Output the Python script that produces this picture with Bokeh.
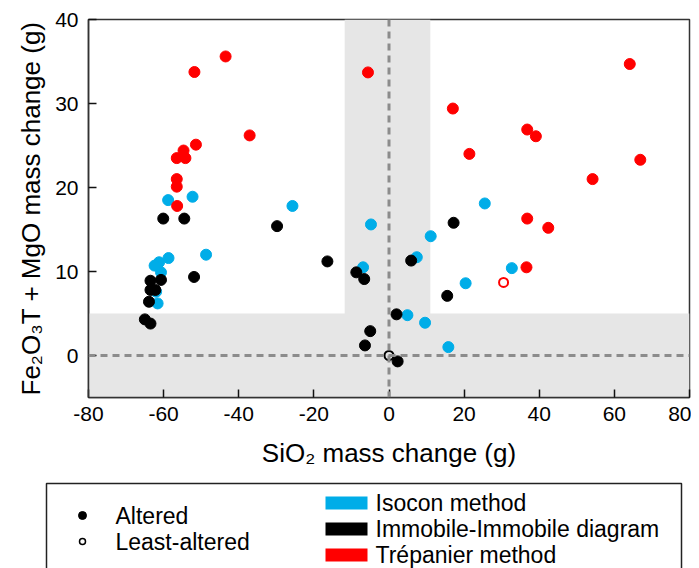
from bokeh.plotting import figure
from bokeh.models import Range1d, FixedTicker, Span
from bokeh.core.properties import value
from bokeh.embed import file_html
from bokeh.resources import INLINE

# ---------------- data ----------------
isocon_x = [-58.8, -52.3, -48.7, -58.7, -61.2, -62.4, -60.7, -61.6, -62.0,
            -25.7, -4.8, -6.9, 25.5, 11.1, 7.4, 32.7, 20.4, 4.9, 9.6, 15.8]
isocon_y = [18.5, 18.9, 12.0, 11.6, 11.1, 10.7, 9.9, 6.2, 7.6,
            17.8, 15.6, 10.5, 18.1, 14.2, 11.7, 10.4, 8.6, 4.8, 3.9, 1.0]

trep_x = [-43.5, -51.8, -37.1, -51.4, -54.7, -56.5, -54.2, -56.5, -56.5, -56.4,
          -5.6, 17.0, 21.4, 64.1, 36.8, 39.1, 66.9, 54.2, 36.8, 42.4, 36.6]
trep_y = [35.6, 33.75, 26.2, 25.1, 24.4, 23.5, 23.5, 21.0, 20.1, 17.8,
          33.7, 29.4, 24.0, 34.7, 26.9, 26.1, 23.3, 21.0, 16.3, 15.2, 10.5]
trep_least_x = [30.5]
trep_least_y = [8.7]

immo_x = [-60.1, -54.5, -51.9, -60.7, -63.5, -63.5, -62.2, -63.9, -65.0, -63.5,
          -29.8, -16.4, -8.7, -6.6, -5.0, -6.4, 17.2, 5.9, 15.5, 2.0, 2.3]
immo_y = [16.3, 16.3, 9.35, 9.0, 8.9, 7.8, 7.8, 6.4, 4.3, 3.8,
          15.4, 11.2, 9.9, 9.1, 2.9, 1.2, 15.8, 11.3, 7.1, 4.9, -0.7]
least_x = [0.0]
least_y = [0.0]

band_left = [-11.8, -80]
band_right = [11.0, 80]
band_bottom = [-5, -5]
band_top = [40, 5]

x_ticks = [-80, -60, -40, -20, 0, 20, 40, 60, 80]
y_ticks = [0, 10, 20, 30, 40]

legend_markers = ["Altered", "Least-altered"]
legend_methods = ["Isocon method", "Immobile-Immobile diagram", "Trépanier method"]

CYAN = "#00ade8"
RED = "#ff0000"
BLACK = "#000000"
BAND = "#e6e6e6"
FONT = "Liberation Sans"

# ---------------- main plot ----------------
p = figure(width=691, height=471, output_backend="svg", toolbar_location=None,
           x_range=Range1d(-80, 80), y_range=Range1d(-5, 40),
           min_border_left=88, min_border_right=2, min_border_top=19, min_border_bottom=74)
p.grid.visible = False
p.background_fill_color = "white"
p.outline_line_color = "#333333"
p.outline_line_width = 1.5

p.quad(left=band_left, right=band_right, bottom=band_bottom, top=band_top,
       fill_color=BAND, line_color=None)

for dim in ("height", "width"):
    p.add_layout(Span(location=0, dimension=dim, line_color="#8c8c8c",
                      line_width=3, line_dash="7 5"))

p.scatter(isocon_x, isocon_y, size=11, color=CYAN)
p.scatter(trep_x, trep_y, size=11, color=RED)
p.scatter(immo_x, immo_y, size=11, color=BLACK)
p.scatter(trep_least_x, trep_least_y, size=9, fill_color=None, line_color=RED, line_width=2)
p.scatter(least_x, least_y, size=9, fill_color=None, line_color=BLACK, line_width=2)

p.xaxis.ticker = FixedTicker(ticks=x_ticks)
p.yaxis.ticker = FixedTicker(ticks=y_ticks)
p.xaxis.major_label_overrides = {t: str(t) for t in x_ticks}
p.yaxis.major_label_overrides = {t: str(t) for t in y_ticks}
p.xaxis.axis_label = "SiO₂ mass change (g)"
p.yaxis.axis_label = "Fe₂O₃T + MgO mass change (g)"
for ax in (p.xaxis, p.yaxis):
    ax.axis_line_color = "#333333"
    ax.axis_line_width = 1.5
    ax.major_tick_line_color = "#111111"
    ax.major_tick_line_width = 1.5
    ax.major_tick_in = 8
    ax.major_tick_out = 0
    ax.minor_tick_line_color = None
    ax.major_label_text_font = FONT
    ax.major_label_text_font_size = "21px"
    ax.major_label_text_color = "black"
    ax.axis_label_text_font = FONT
    ax.axis_label_text_font_size = "26px"
    ax.axis_label_text_font_style = "normal"
    ax.axis_label_text_color = "black"
p.xaxis.major_label_standoff = 9
p.xaxis.axis_label_standoff = 14
p.yaxis.major_label_standoff = 10
p.yaxis.axis_label_standoff = 6

# ---------------- legend panel ----------------
lg = figure(width=691, height=97, output_backend="svg", toolbar_location=None,
            x_range=Range1d(0, 691), y_range=Range1d(97, 0),
            min_border=0, min_border_left=0, min_border_right=0,
            min_border_top=0, min_border_bottom=0,
            x_axis_location=None, y_axis_location=None)
lg.grid.visible = False
lg.outline_line_color = None

lg.quad(left=[46], right=[681], top=[12], bottom=[200], fill_color=None,
        line_color="#222222", line_width=1.5)

lg.scatter([82], [44], size=8, color=BLACK)
lg.scatter([82], [70], size=6, fill_color=None, line_color=BLACK, line_width=1.5)
lg.text(x=[115, 115], y=[44, 70], text=legend_markers, text_baseline="middle",
        text_font=value(FONT), text_font_size="23px", text_color="black")

lg.quad(left=[325, 325, 325], right=[367, 367, 367], top=[25, 51, 77], bottom=[38, 64, 90],
        fill_color=[CYAN, BLACK, RED], line_color=None)
lg.text(x=[375, 375, 375], y=[31, 57, 83], text=legend_methods, text_baseline="middle",
        text_font=value(FONT), text_font_size="23px", text_color="black")

open("out.html", "w").write(file_html([p, lg], INLINE))
